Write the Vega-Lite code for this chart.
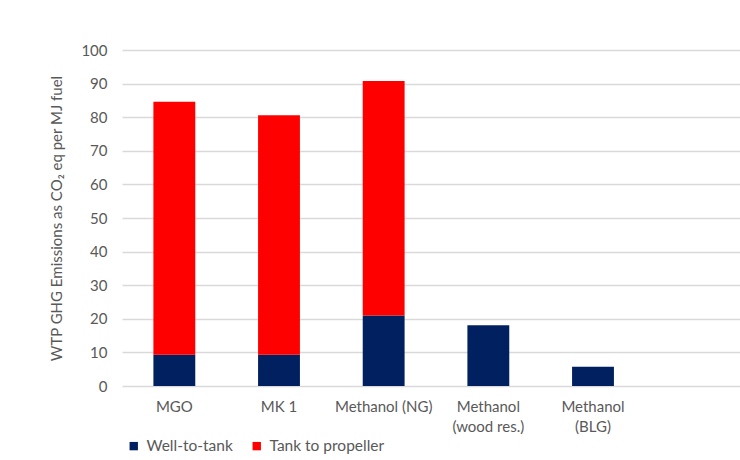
{
  "$schema": "https://vega.github.io/schema/vega-lite/v6.json",
  "autosize": {"type": "none"},
  "width": 628,
  "height": 336,
  "padding": {"left": 122, "top": 50, "right": 0, "bottom": 74},
  "background": "white",
  "config": {
    "view": {"stroke": null},
    "font": "Lato",
    "axis": {"labelFont": "Lato", "titleFont": "Lato", "labelColor": "#595959", "titleColor": "#595959"},
    "legend": {"labelFont": "Lato"}
  },
  "data": {
    "values": [
      {"fuel": "MGO", "part": "Well-to-tank", "k": 1, "value": 9.3},
      {"fuel": "MGO", "part": "Tank to propeller", "k": 2, "value": 75.3},
      {"fuel": "MK 1", "part": "Well-to-tank", "k": 1, "value": 9.3},
      {"fuel": "MK 1", "part": "Tank to propeller", "k": 2, "value": 71.3},
      {"fuel": "Methanol (NG)", "part": "Well-to-tank", "k": 1, "value": 21.0},
      {"fuel": "Methanol (NG)", "part": "Tank to propeller", "k": 2, "value": 69.8},
      {"fuel": "Methanol (wood res.)", "part": "Well-to-tank", "k": 1, "value": 18.1},
      {"fuel": "Methanol (BLG)", "part": "Well-to-tank", "k": 1, "value": 5.7}
    ]
  },
  "mark": {"type": "bar"},
  "encoding": {
    "x": {
      "field": "fuel",
      "type": "nominal",
      "scale": {
        "domain": ["MGO", "MK 1", "Methanol (NG)", "Methanol (wood res.)", "Methanol (BLG)", " "],
        "paddingInner": 0.6,
        "paddingOuter": 0.3
      },
      "axis": {
        "title": null,
        "labelAngle": 0,
        "domain": false,
        "ticks": false,
        "labelFontSize": 15,
        "labelPadding": 13,
        "labelLineHeight": 20,
        "labelExpr": "datum.label == 'Methanol (wood res.)' ? ['Methanol', '(wood res.)'] : datum.label == 'Methanol (BLG)' ? ['Methanol', '(BLG)'] : datum.label"
      }
    },
    "y": {
      "field": "value",
      "type": "quantitative",
      "stack": "zero",
      "scale": {"domain": [0, 100], "nice": false},
      "axis": {
        "title": "WTP GHG Emissions as CO₂ eq per MJ fuel",
        "titleFontSize": 15,
        "titleFontWeight": "normal",
        "titlePadding": 16,
        "values": [0, 10, 20, 30, 40, 50, 60, 70, 80, 90, 100],
        "domain": false,
        "ticks": false,
        "labelFontSize": 15,
        "labelPadding": 15,
        "gridColor": "#d9d9d9",
        "gridWidth": 1.5
      }
    },
    "color": {
      "field": "part",
      "type": "nominal",
      "scale": {"domain": ["Well-to-tank", "Tank to propeller"], "range": ["#002060", "#ff0000"]},
      "legend": {
        "title": null,
        "orient": "none",
        "direction": "horizontal",
        "legendX": 4,
        "legendY": 388,
        "symbolType": "square",
        "symbolSize": 70,
        "symbolStrokeWidth": 0,
        "labelFontSize": 15.5,
        "labelColor": "#595959",
        "labelOffset": 5,
        "columnPadding": 16
      }
    },
    "order": {"field": "k", "type": "quantitative"}
  }
}
